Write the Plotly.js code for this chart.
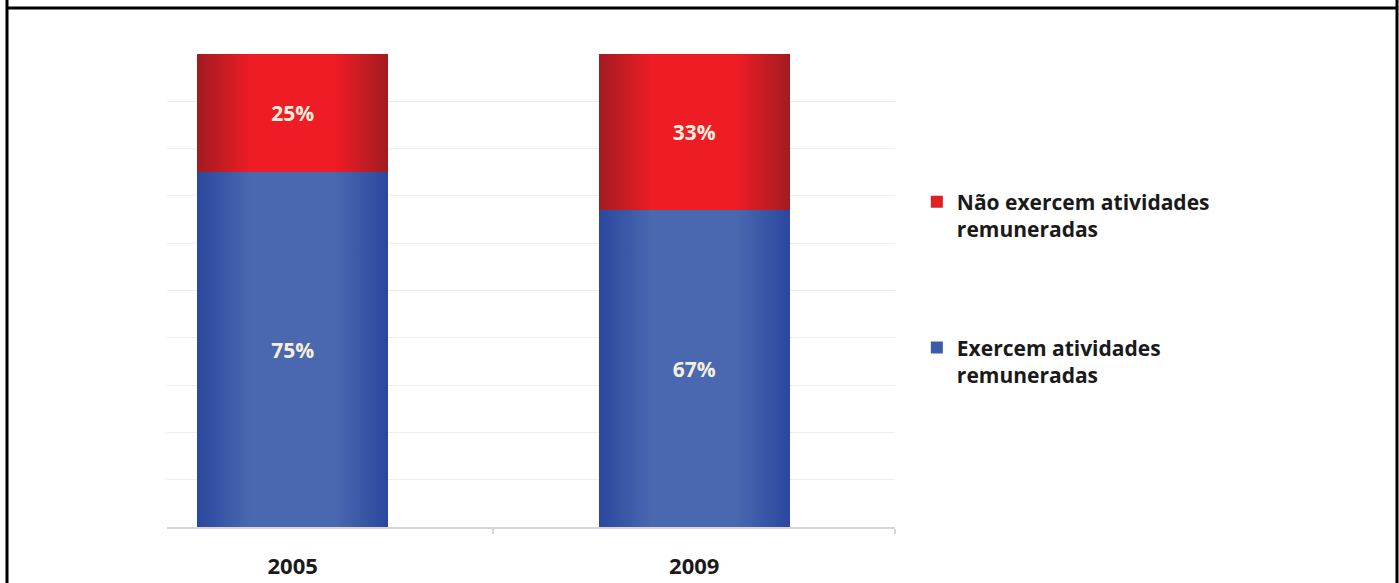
<!DOCTYPE html>
<html>
<head>
<meta charset="utf-8">
<script src="https://cdn.plot.ly/plotly-3.0.1.min.js"></script>
<style>
html,body{margin:0;padding:0;background:#fff;}
#chart{width:1399px;height:583px;}
</style>
</head>
<body>
<div id="chart"></div>
<script>
var years = ['2005', '2009'];
var exercem = [75, 67];
var naoExercem = [25, 33];
var seriesNames = ['Exercem atividades<br>remuneradas', 'Não exercem atividades<br>remuneradas'];
var yTicks = [0, 10, 20, 30, 40, 50, 60, 70, 80, 90, 100];

var fontFam = '"Open Sans", "DejaVu Sans", sans-serif';
var barText = {family: fontFam, size: 21, color: '#f6eedc', weight: 'bold'};

var traces = [
  {
    type: 'bar', x: years, y: exercem, name: seriesNames[0], legendgroup: 'a', legendrank: 2,
    marker: {color: '#3d5aa8', line: {width: 0}},
    width: 0.476,
    text: exercem.map(function(v){return v + '%';}),
    textposition: 'inside', insidetextanchor: 'middle', textangle: 0,
    textfont: barText, insidetextfont: barText, constraintext: 'none',
    hoverinfo: 'none'
  },
  {
    type: 'bar', x: years, y: naoExercem, name: seriesNames[1], legendgroup: 'b', legendrank: 1,
    marker: {color: '#e31e24', line: {width: 0}},
    width: 0.476,
    text: naoExercem.map(function(v){return v + '%';}),
    textposition: 'inside', insidetextanchor: 'middle', textangle: 0,
    textfont: barText, insidetextfont: barText, constraintext: 'none',
    hoverinfo: 'none'
  }
];

var layout = {
  width: 1399, height: 583,
  margin: {l: 167, r: 504, t: 54, b: 56},
  paper_bgcolor: '#ffffff', plot_bgcolor: '#ffffff',
  barmode: 'stack',
  showlegend: true,
  legend: {
    x: 1.03, y: 0.73, xanchor: 'left', yanchor: 'top',
    traceorder: 'grouped', tracegroupgap: 88, valign: 'top',
    font: {family: fontFam, size: 21, color: '#1a1a1a', weight: 'bold'},
    bgcolor: 'rgba(0,0,0,0)'
  },
  xaxis: {
    type: 'category', range: [-0.313, 1.5],
    showgrid: false, zeroline: false,
    showline: true, linecolor: '#d6d6d6', linewidth: 2,
    ticks: 'outside', tickson: 'boundaries', ticklen: 5, tickcolor: '#d6d6d6', tickwidth: 2,
    tickfont: {family: fontFam, size: 22, color: '#1a1a1a', weight: 'bold'},
    ticklabelstandoff: 19
  },
  yaxis: {
    range: [0, 100], tickvals: yTicks, showticklabels: false,
    showgrid: true, gridcolor: '#ededed', gridwidth: 1,
    zeroline: false, showline: false, ticks: ''
  },
  shapes: [
    {type: 'line', xref: 'paper', yref: 'paper', x0: (7 - 167) / 728, x1: (7 - 167) / 728, y0: (527 + 5) / 473, y1: (527 - 590) / 473, line: {color: '#000', width: 3}},
    {type: 'line', xref: 'paper', yref: 'paper', x0: (1397 - 167) / 728, x1: (1397 - 167) / 728, y0: (527 + 5) / 473, y1: (527 - 590) / 473, line: {color: '#000', width: 3}},
    {type: 'line', xref: 'paper', yref: 'paper', x0: (7 - 167) / 728, x1: (1397 - 167) / 728, y0: (527 - 8) / 473, y1: (527 - 8) / 473, line: {color: '#000', width: 3}}
  ]
};

Plotly.newPlot('chart', traces, layout, {displayModeBar: false, staticPlot: true}).then(function(gd){
  var svg = gd.querySelector('.main-svg');
  var defs = svg.querySelector('defs');
  var ns = 'http://www.w3.org/2000/svg';
  function grad(id, dark, light) {
    var g = document.createElementNS(ns, 'linearGradient');
    g.setAttribute('id', id);
    g.setAttribute('x1', '0'); g.setAttribute('x2', '1');
    g.setAttribute('y1', '0'); g.setAttribute('y2', '0');
    [[0, dark], [0.28, light], [0.72, light], [1, dark]].forEach(function(s){
      var st = document.createElementNS(ns, 'stop');
      st.setAttribute('offset', s[0]);
      st.setAttribute('stop-color', s[1]);
      g.appendChild(st);
    });
    defs.appendChild(g);
  }
  grad('gBlue', '#2b479e', '#4a68b0');
  grad('gRed', '#a11c21', '#ee1c25');
  var tr = gd.querySelectorAll('.barlayer .trace');
  var ids = ['gBlue', 'gRed'];
  tr.forEach(function(t, i){
    t.querySelectorAll('.point path').forEach(function(p){
      p.style.fill = 'url(#' + ids[i] + ')';
    });
  });
});
</script>
</body>
</html>
